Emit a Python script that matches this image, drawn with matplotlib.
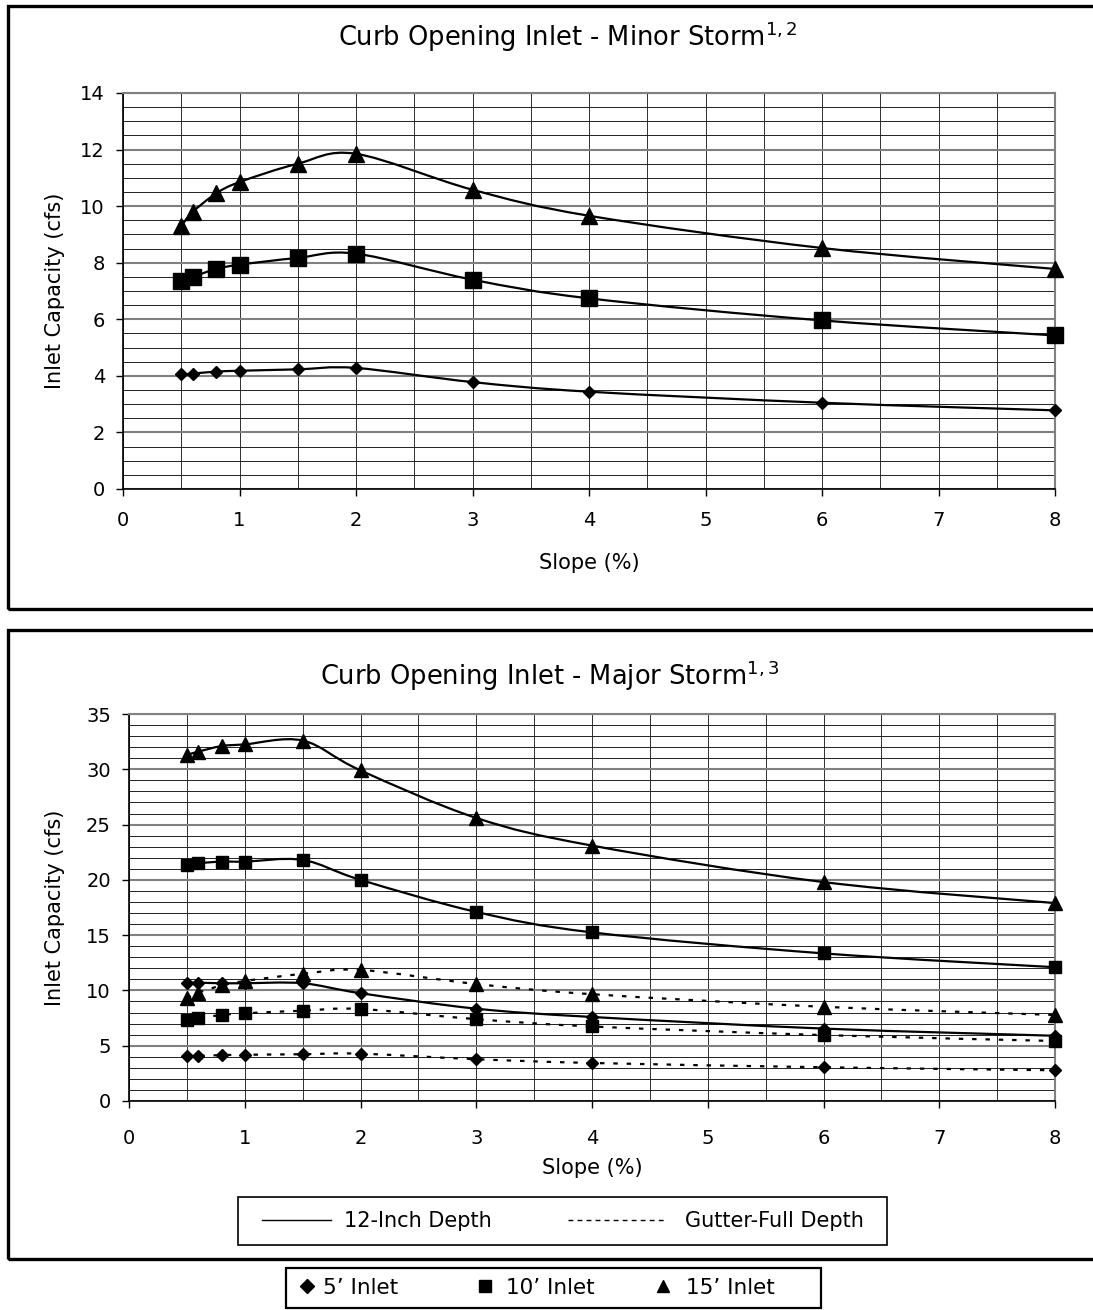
import numpy as np
import matplotlib.pyplot as plt
from matplotlib.path import Path
from matplotlib.patches import PathPatch, Rectangle
from matplotlib.lines import Line2D
from matplotlib.ticker import MultipleLocator

plt.rcParams['font.family'] = ['DejaVu Sans']

# slope (%) at which inlet capacity was tabulated
slope = [0.5, 0.6, 0.8, 1, 1.5, 2, 3, 4, 6, 8]

# minor storm / gutter-full depth capacities (cfs)
q5_minor = [4.05, 4.08, 4.15, 4.18, 4.23, 4.28, 3.78, 3.44, 3.05, 2.78]
q10_minor = [7.35, 7.5, 7.78, 7.93, 8.17, 8.32, 7.4, 6.74, 5.96, 5.43]
q15_minor = [9.3, 9.8, 10.45, 10.85, 11.5, 11.85, 10.58, 9.66, 8.52, 7.78]

# major storm, 12-inch depth capacities (cfs)
q5_major = [10.7, 10.7, 10.65, 10.65, 10.65, 9.75, 8.35, 7.6, 6.55, 5.9]
q10_major = [21.3, 21.5, 21.65, 21.65, 21.8, 20.0, 17.1, 15.25, 13.35, 12.1]
q15_major = [31.3, 31.6, 32.1, 32.25, 32.6, 29.9, 25.6, 23.1, 19.8, 17.9]

W, H = 1093, 1310
fig = plt.figure(figsize=(W / 100, H / 100), dpi=100)


def fx(px):
    return px / W


def fy(py):
    return 1 - py / H


def smooth_path(x, y):
    # excel style smoothed line (bezier through the points)
    pts = np.column_stack([x, y]).astype(float)
    ext = np.vstack([pts[0], pts, pts[-1]])
    verts = [pts[0]]
    codes = [Path.MOVETO]
    for i in range(len(pts) - 1):
        p0, p1, p2, p3 = ext[i], ext[i + 1], ext[i + 2], ext[i + 3]
        verts += [p1 + (p2 - p0) / 6, p2 - (p3 - p1) / 6, p2]
        codes += [Path.CURVE4] * 3
    return Path(verts, codes)


def series(ax, y, marker, ms, ls='-'):
    ax.add_patch(PathPatch(smooth_path(slope, y), fill=False, lw=1.6,
                           ls=ls, edgecolor='k', clip_on=False, zorder=3))
    ax.plot(slope, y, ls='none', marker=marker, ms=ms, color='k',
            clip_on=False, zorder=4)


def style_axes(ax, ymax, ymajor, yminor, xpad):
    ax.set_xlim(0, 8)
    ax.set_ylim(0, ymax)
    ax.xaxis.set_major_locator(MultipleLocator(1))
    ax.xaxis.set_minor_locator(MultipleLocator(0.5))
    ax.yaxis.set_major_locator(MultipleLocator(ymajor))
    ax.yaxis.set_minor_locator(MultipleLocator(yminor))
    ax.set_axisbelow(True)
    ax.grid(which='major', axis='y', color='#808080', lw=1.5)
    ax.grid(which='minor', axis='y', color='#202020', lw=0.7)
    ax.grid(which='both', axis='x', color='#303030', lw=0.7)
    ax.tick_params(which='major', direction='out', length=5, width=1,
                   labelsize=14, color='k')
    ax.tick_params(axis='x', pad=xpad)
    ax.tick_params(axis='y', pad=8)
    ax.tick_params(which='minor', length=0)
    for s in ['left', 'bottom']:
        ax.spines[s].set_color('k')
        ax.spines[s].set_linewidth(1.2)
    for s in ['top', 'right']:
        ax.spines[s].set_color('#808080')
        ax.spines[s].set_linewidth(1.5)


def box(x0, y0, x1, y1, lw):
    fig.add_artist(Rectangle((fx(x0), fy(y1)), fx(x1) - fx(x0), fy(y0) - fy(y1),
                             fill=False, lw=lw, edgecolor='k',
                             transform=fig.transFigure))


def key(handle, label, x_left, y_mid, hl, tp, fs):
    fig.legend(handles=[handle], labels=[label], loc='center left',
               bbox_to_anchor=(fx(x_left), fy(y_mid)), handlelength=hl,
               handletextpad=tp, frameon=False, borderpad=0,
               borderaxespad=0, fontsize=fs)


# outer frames of the two charts (right side runs off the page)
box(8, 6, 1300, 609, 2.4)
box(8, 630, 1300, 1259, 2.4)

# minor storm chart
ax1 = fig.add_axes([fx(123), fy(489), fx(1055) - fx(123), fy(93) - fy(489)])
style_axes(ax1, 14, 2, 0.5, 11)
series(ax1, q5_minor, 'D', 6.5)
series(ax1, q10_minor, 's', 11)
series(ax1, q15_minor, '^', 11.5)
ax1.set_xlabel('Slope (%)', fontsize=15, va='center')
ax1.set_ylabel('Inlet Capacity (cfs)', fontsize=15, va='center')
ax1.xaxis.set_label_coords(0.5, (489 - 563) / 396)
ax1.yaxis.set_label_coords((55 - 123) / 932, 0.5)
fig.text(fx(568), fy(37), 'Curb Opening Inlet - Minor Storm$^{1,2}$',
         fontsize=18.5, ha='center', va='center')

# major storm chart
ax2 = fig.add_axes([fx(129), fy(1101), fx(1055) - fx(129), fy(714) - fy(1101)])
style_axes(ax2, 35, 5, 1, 15)
dash = (0, (2, 4))
series(ax2, q5_minor, 'D', 6, ls=dash)
series(ax2, q10_minor, 's', 9, ls=dash)
series(ax2, q15_minor, '^', 9.5, ls=dash)
series(ax2, q5_major, 'D', 6)
series(ax2, q10_major, 's', 9)
series(ax2, q15_major, '^', 9.5)
ax2.set_xlabel('Slope (%)', fontsize=15, va='center')
ax2.set_ylabel('Inlet Capacity (cfs)', fontsize=15, va='center')
ax2.xaxis.set_label_coords(0.5, (1101 - 1168) / 387)
ax2.yaxis.set_label_coords((55 - 129) / 926, 0.5)
fig.text(fx(550), fy(676), 'Curb Opening Inlet - Major Storm$^{1,3}$',
         fontsize=18.5, ha='center', va='center')

# line style key
box(238, 1197, 887, 1245, 1.2)
key(Line2D([], [], color='k', lw=1), '12-Inch Depth', 262, 1221, 3.3, 0.65, 15)
key(Line2D([], [], color='k', lw=1, ls=(0, (3.5, 3))), 'Gutter-Full Depth',
    568, 1221, 4.7, 0.9, 15)

# marker key
box(286, 1268, 821, 1308, 1.6)
key(Line2D([], [], ls='none', marker='D', ms=7.5, color='k'), "5\u2019 Inlet",
    298, 1288, 0.8, 0.35, 15.5)
key(Line2D([], [], ls='none', marker='s', ms=9, color='k'), "10\u2019 Inlet",
    474, 1288, 1.0, 0.5, 15.5)
key(Line2D([], [], ls='none', marker='^', ms=9, color='k'), "15\u2019 Inlet",
    652, 1288, 1.0, 0.6, 15.5)

fig.savefig('out.png', dpi=100)
